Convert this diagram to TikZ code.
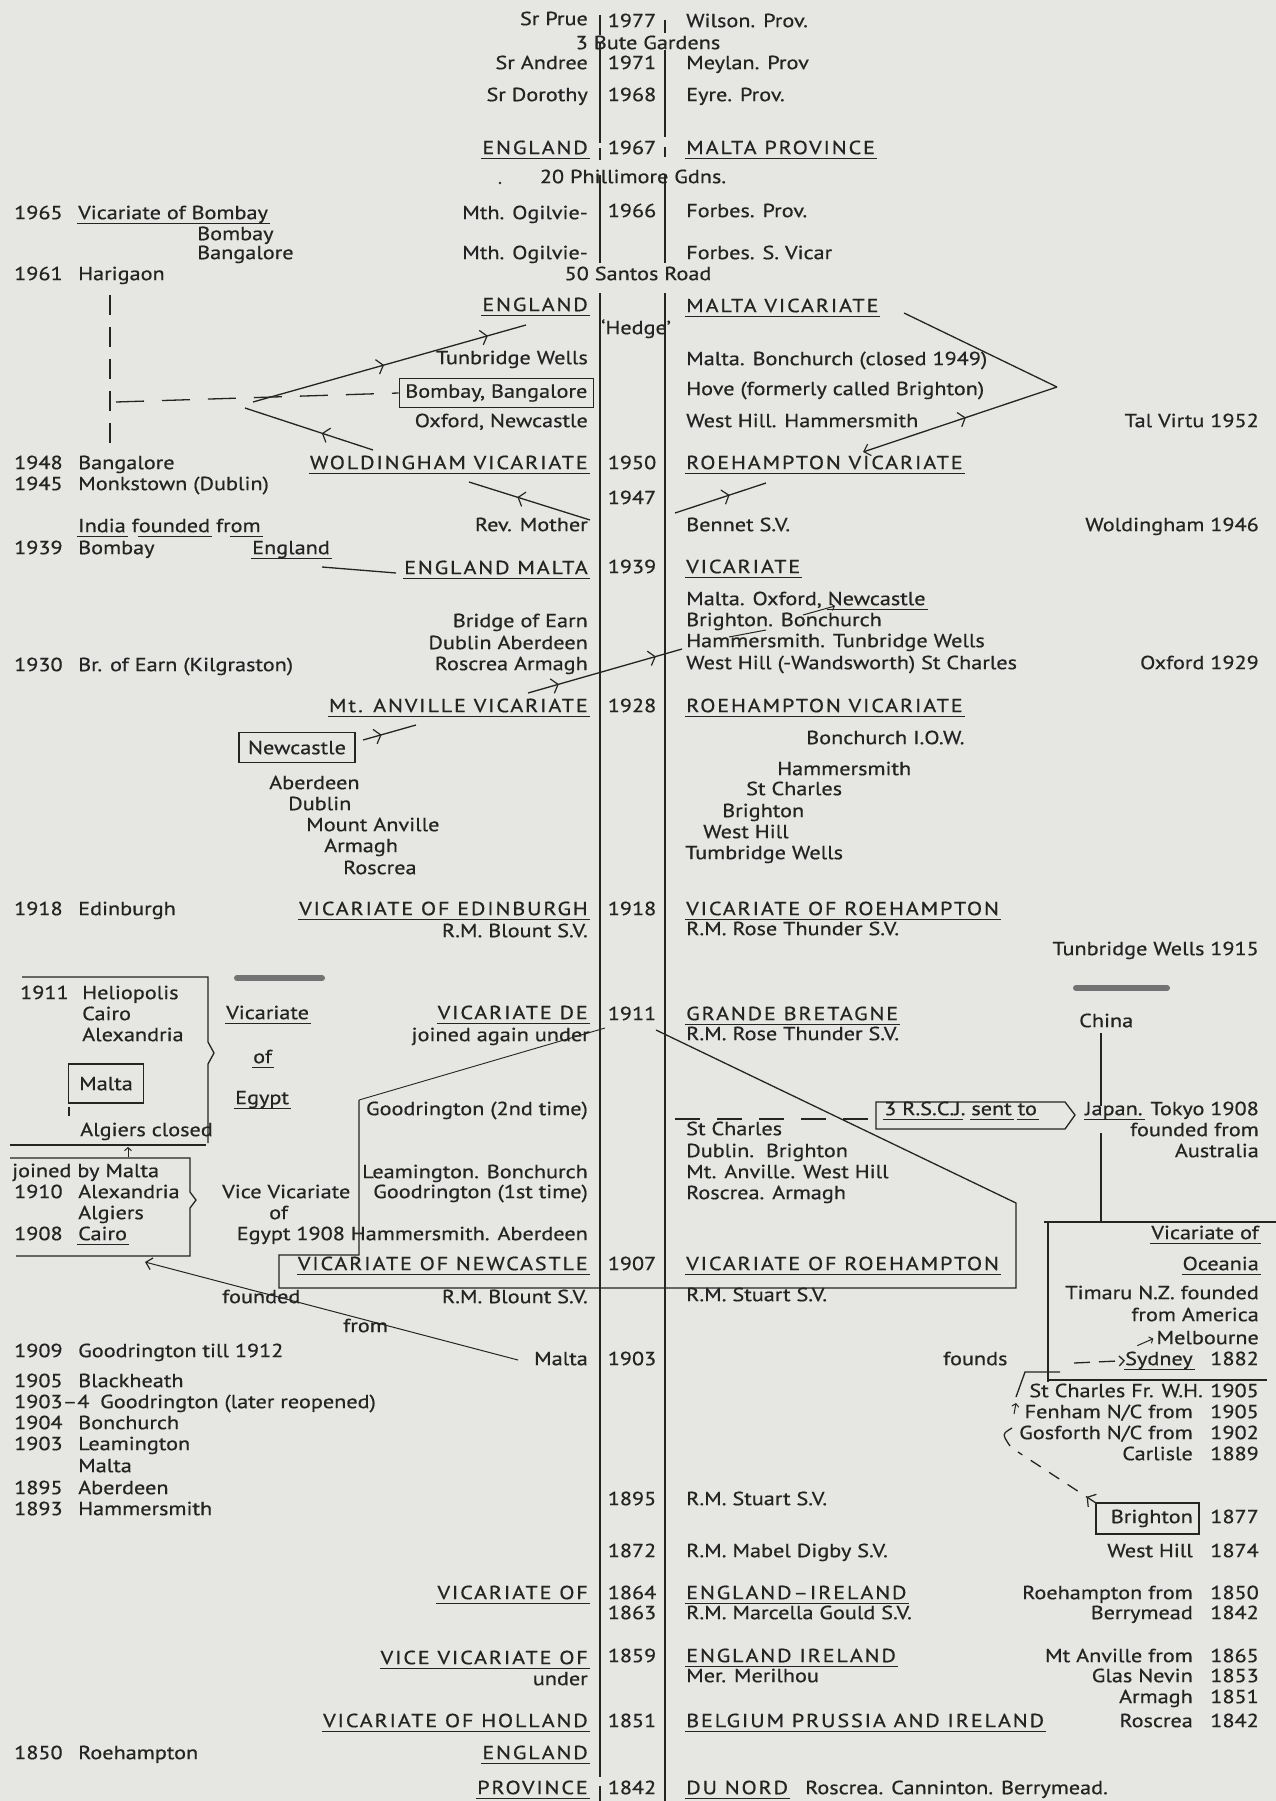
\documentclass[tikz,border=0pt]{standalone}
\usepackage{fontspec}
\newfontfamily\tf{PT Sans}[FakeStretch=1.17,FakeBold=0.6]
\newfontfamily\tfc{PT Sans}[FakeStretch=1.17,FakeBold=0.6,LetterSpace=9.5]
\usetikzlibrary{arrows.meta,decorations.markings,calc}
\definecolor{ink}{RGB}{36,36,36}
\definecolor{paper}{RGB}{230,230,227}
\newcommand\myul[1]{\setbox0\hbox{#1}\rlap{\kern-1pt\rule[-4.5pt]{\dimexpr\wd0+3pt\relax}{1.1pt}}#1}
\tikzset{
 base/.style={inner sep=0pt, text=ink, font=\tf\fontsize{19}{21}\selectfont},
 capf/.style={font=\tfc\fontsize{19}{21}\selectfont},
 lf/.style={base, anchor=mid east},
 rt/.style={base, anchor=mid west},
 ct/.style={base, anchor=mid},
 ln/.style={draw=ink, line width=1.3pt},
 tl/.style={draw=ink, line width=1.6pt},
 chev/.style={postaction={decorate, decoration={markings, mark=at position #1 with {\arrow[ink]{Straight Barb[length=6pt,width=15pt,line width=1.2pt]}}}}},
 rchev/.style={postaction={decorate, decoration={markings, mark=at position #1 with {\arrowreversed[ink]{Straight Barb[length=6pt,width=15pt,line width=1.2pt]}}}}},
 tip/.style={-{Straight Barb[length=6pt,width=12pt,line width=1.2pt]}},
 smudge/.style={line width=6pt, line cap=round, draw=black!55},
}
\begin{document}
\begin{tikzpicture}[x=1pt,y=-1pt]
\fill[paper] (0,0) rectangle (1276,1801);
\useasboundingbox (0,0) rectangle (1276,1801);
% timeline
\foreach \a/\b in {15/35,43/143,148/160,175/263,293/1777,1786/1801} \draw[tl] (600,\a) -- (600,\b);
\foreach \a/\b in {20/33,50/137,147/157,175/263,293/1801} \draw[tl] (665,\a) -- (665,\b);
% ---------- top
\node[lf] (sprue) at (588,23) {Sr Prue};
\node[ct] (y1977) at (632,25) {1977};
\node[rt] (wilson) at (686,25) {Wilson. Prov.};
\node[ct] (bute) at (648,47) {3 Bute Gardens};
\node[lf] (andree) at (588,67) {Sr Andree};
\node[ct] (y1971) at (632,67) {1971};
\node[rt] (meylan) at (686,67) {Meylan. Prov};
\node[lf] (dorothy) at (588,99) {Sr Dorothy};
\node[ct] (y1968) at (632,99) {1968};
\node[rt] (eyre) at (686,99) {Eyre. Prov.};
\node[lf,capf] (eng1) at (588,152) {\myul{ENGLAND}};
\node[ct] (y1967) at (632,152) {1967};
\node[rt,capf] (maltaprov) at (686,152) {\myul{MALTA PROVINCE}};
\fill[ink] (500,183) circle (1.3pt);
\node[ct] (philli) at (633,181) {20 Phillimore Gdns.};
\node[rt] (y1965) at (14,217) {1965};
\node[rt] (vicbom) at (78,217) {\myul{Vicariate of Bombay}};
\node[rt] (bom1) at (197,238) {Bombay};
\node[rt] (bang1) at (197,257) {Bangalore};
\node[lf] (ogil1) at (588,217) {Mth. Ogilvie-};
\node[ct] (y1966) at (632,215) {1966};
\node[rt] (forbes1) at (686,215) {Forbes. Prov.};
\node[lf] (ogil2) at (588,257) {Mth. Ogilvie-};
\node[rt] (forbes2) at (686,257) {Forbes. S. Vicar};
\node[rt] (y1961) at (14,278) {1961};
\node[rt] (hari) at (78,278) {Harigaon};
\node[ct] (santos) at (638,278) {50 Santos Road};
\node[lf,capf] (eng2) at (588,309) {\myul{ENGLAND}};
\node[rt,capf] (maltavic) at (686,310) {\myul{MALTA VICARIATE}};
\node[ct] (hedge) at (636,332) {‘Hedge’};
\node[lf] (tunb1) at (588,362) {Tunbridge Wells};
\node[rt] (bonch1) at (686,363) {Malta. Bonchurch (closed 1949)};
\node[lf,draw=ink,line width=1.3pt,inner xsep=6pt,minimum height=29pt,anchor=east] (bb) at (594,393) {Bombay, Bangalore};
\node[rt] (hove) at (686,393) {Hove (formerly called Brighton)};
\node[lf] (oxnew) at (588,425) {Oxford, Newcastle};
\node[rt] (westhill1) at (686,425) {West Hill. Hammersmith};
\node[lf] (talvirtu) at (1259,425) {Tal Virtu 1952};
% ---------- 1950s-1940s
\node[rt] (y1948) at (14,467) {1948};
\node[rt] (bang2) at (78,467) {Bangalore};
\node[lf,capf] (wold) at (588,467) {\myul{WOLDINGHAM VICARIATE}};
\node[ct] (y1950) at (632,467) {1950};
\node[rt,capf] (roe1) at (686,467) {\myul{ROEHAMPTON VICARIATE}};
\node[rt] (y1945) at (14,488) {1945};
\node[rt] (monks) at (78,488) {Monkstown (Dublin)};
\node[ct] (y1947) at (632,502) {1947};
\node[rt] (india) at (78,530) {\myul{India} f\myul{ounded} fr\myul{om}};
\node[lf] (revm) at (588,529) {Rev. Mother};
\node[rt] (bennet) at (686,529) {Bennet S.V.};
\node[lf] (wold46) at (1259,529) {Woldingham 1946};
\node[rt] (y1939a) at (14,552) {1939};
\node[rt] (bom2) at (78,552) {Bombay};
\node[rt] (engl) at (252,552) {\myul{England}};
\node[lf,capf] (engmalta) at (588,572) {\myul{ENGLAND MALTA}};
\node[ct] (y1939b) at (632,571) {1939};
\node[rt,capf] (vic39) at (686,571) {\myul{VICARIATE}};
\node[rt] (moxn) at (686,603) {Malta. Oxford, \myul{Newcastle}};
\node[lf] (bridge) at (588,625) {Bridge of Earn};
\node[rt] (brbon) at (686,624) {Brighton. Bonchurch};
\node[lf] (dubab) at (588,647) {Dublin Aberdeen};
\node[rt] (hamtun) at (686,645) {Hammersmith. Tunbridge Wells};
\node[lf] (rosarm) at (588,668) {Roscrea Armagh};
\node[rt] (whsc) at (686,667) {West Hill (-Wandsworth) St Charles};
\node[lf] (ox29) at (1259,667) {Oxford 1929};
\node[rt] (y1930) at (14,669) {1930};
\node[rt] (brearn) at (78,669) {Br. of Earn (Kilgraston)};
\node[lf,capf] (mtanv) at (588,710) {\myul{Mt. ANVILLE VICARIATE}};
\node[ct] (y1928) at (632,710) {1928};
\node[rt,capf] (roe2) at (686,710) {\myul{ROEHAMPTON VICARIATE}};
\node[ct,draw=ink,line width=1.3pt,minimum width=116pt,minimum height=30pt] (ncbox) at (297,752) {Newcastle};
\node[rt] (boniow) at (806,742) {Bonchurch I.O.W.};
\node[rt] (ham2) at (777,773) {Hammersmith};
\node[rt] (stc2) at (746,793) {St Charles};
\node[rt] (bri2) at (722,815) {Brighton};
\node[rt] (wh2) at (703,836) {West Hill};
\node[rt] (tumb) at (685,857) {Tumbridge Wells};
\node[rt] (aber2) at (269,787) {Aberdeen};
\node[rt] (dub2) at (288,808) {Dublin};
\node[rt] (mount2) at (306,829) {Mount Anville};
\node[rt] (arm2) at (324,850) {Armagh};
\node[rt] (ros2) at (343,872) {Roscrea};
% ---------- 1918-1907
\node[rt] (y1918a) at (14,913) {1918};
\node[rt] (edin) at (78,913) {Edinburgh};
\node[lf,capf] (vicedin) at (588,913) {\myul{VICARIATE OF EDINBURGH}};
\node[ct] (y1918b) at (632,913) {1918};
\node[rt,capf] (vicroe1) at (686,913) {\myul{VICARIATE OF ROEHAMPTON}};
\node[lf] (blount1) at (588,935) {R.M. Blount S.V.};
\node[rt] (rose1) at (686,933) {R.M. Rose Thunder S.V.};
\node[lf] (tunb15) at (1259,953) {Tunbridge Wells 1915};
\draw[smudge] (237,978) -- (322,978);
\draw[smudge] (1076,988) -- (1167,988);
\node[rt] (y1911a) at (20,997) {1911};
\node[rt] (helio) at (82,997) {Heliopolis};
\node[rt] (cairo1) at (82,1018) {Cairo};
\node[rt] (alex1) at (82,1039) {Alexandria};
\node[rt] (vicar) at (226,1017) {\myul{Vicariate}};
\node[rt] (of1) at (253,1061) {\myul{of}};
\node[rt] (egypt1) at (235,1102) {\myul{Egypt}};
\node[lf,capf] (vicde) at (588,1017) {\myul{VICARIATE DE}};
\node[ct] (y1911b) at (632,1018) {1911};
\node[rt,capf] (grande) at (686,1018) {\myul{GRANDE BRETAGNE}};
\node[lf] (joined) at (590,1039) {joined again under};
\node[rt] (rose2) at (686,1038) {R.M. Rose Thunder S.V.};
\node[rt] (china) at (1079,1025) {China};
\node[ct,draw=ink,line width=1.3pt,minimum width=75pt,minimum height=39pt] (maltabox) at (106,1088) {Malta};
\node[rt] (algcl) at (80,1134) {Algiers closed};
\node[lf] (good2) at (588,1113) {Goodrington (2nd time)};
\node[rt] (rscj) at (884,1113) {\myul{3 R.S.C.J}. \myul{sent} \myul{to}};
\node[lf] (japan) at (1259,1113) {\myul{Japan.} Tokyo 1908};
\node[lf] (fndfrom) at (1259,1134) {founded from};
\node[lf] (austr) at (1259,1155) {Australia};
\node[rt] (stc3) at (686,1133) {St Charles};
\node[rt] (dubbri) at (686,1155) {Dublin.\ \ Brighton};
\node[rt] (mtawh) at (686,1176) {Mt. Anville. West Hill};
\node[rt] (rosarm3) at (686,1197) {Roscrea. Armagh};
\node[rt] (joinm) at (12,1175) {joined by Malta};
\node[lf] (leam) at (588,1176) {Leamington. Bonchurch};
\node[lf] (good1) at (588,1196) {Goodrington (1st time)};
\node[rt] (y1910) at (14,1196) {1910};
\node[rt] (alex2) at (78,1196) {Alexandria};
\node[rt] (alg2) at (78,1217) {Algiers};
\node[rt] (y1908) at (14,1238) {1908};
\node[rt] (cairo2) at (78,1238) {\myul{Cairo}};
\node[rt] (vicevic) at (222,1196) {Vice Vicariate};
\node[rt] (of2) at (269,1217) {of};
\node[lf] (egham) at (588,1238) {Egypt 1908 Hammersmith. Aberdeen};
\node[lf] (vicof) at (1259,1237) {\myul{Vicariate of}};
\node[lf] (ocean) at (1259,1268) {\myul{Oceania}};
\node[lf,capf] (vicnew) at (588,1268) {\myul{VICARIATE OF NEWCASTLE}};
\node[ct] (y1907) at (632,1268) {1907};
\node[rt,capf] (vicroe2) at (686,1268) {\myul{VICARIATE OF ROEHAMPTON}};
\node[rt] (founded) at (222,1301) {founded};
\node[lf] (blount2) at (588,1301) {R.M. Blount S.V.};
\node[rt] (stuart1) at (686,1299) {R.M. Stuart S.V.};
\node[lf] (timaru) at (1259,1297) {Timaru N.Z. founded};
\node[lf] (fromam) at (1259,1319) {from America};
\node[rt] (from1) at (343,1330) {from};
\node[lf] (melb) at (1259,1342) {Melbourne};
% ---------- 1909-1842
\node[rt] (y1909) at (14,1355) {1909};
\node[rt] (goodtill) at (78,1355) {Goodrington till 1912};
\node[lf] (malta03) at (588,1363) {Malta};
\node[ct] (y1903) at (632,1363) {1903};
\node[rt] (founds) at (943,1363) {founds};
\node[rt] (sydney) at (1125,1363) {\myul{Sydney}};
\node[lf] (y1882) at (1259,1363) {1882};
\node[rt] (y1905) at (14,1385) {1905};
\node[rt] (blackh) at (78,1385) {Blackheath};
\node[rt] (y19034) at (14,1406) {1903–4};
\node[rt] (goodlat) at (100,1406) {Goodrington (later reopened)};
\node[rt] (y1904) at (14,1427) {1904};
\node[rt] (bonch4) at (78,1427) {Bonchurch};
\node[rt] (y1903b) at (14,1448) {1903};
\node[rt] (leam3) at (78,1448) {Leamington};
\node[rt] (malta3) at (78,1470) {Malta};
\node[rt] (y1895a) at (14,1492) {1895};
\node[rt] (aber5) at (78,1492) {Aberdeen};
\node[rt] (y1893) at (14,1513) {1893};
\node[rt] (ham3) at (78,1513) {Hammersmith};
\node[lf] (stcfr) at (1203,1395) {St Charles Fr. W.H.};
\node[lf] (y1905b) at (1259,1395) {1905};
\node[lf] (fenham) at (1193,1416) {Fenham N/C from};
\node[lf] (y1905c) at (1259,1416) {1905};
\node[lf] (gosf) at (1193,1437) {Gosforth N/C from};
\node[lf] (y1902) at (1259,1437) {1902};
\node[lf] (carl) at (1193,1458) {Carlisle};
\node[lf] (y1889) at (1259,1458) {1889};
\node[ct] (y1895b) at (632,1503) {1895};
\node[rt] (stuart2) at (686,1503) {R.M. Stuart S.V.};
\node[lf] (bri3) at (1193,1521) {Brighton};
\node[lf] (y1877) at (1259,1521) {1877};
\node[ct] (y1872) at (632,1555) {1872};
\node[rt] (digby) at (686,1555) {R.M. Mabel Digby S.V.};
\node[lf] (wh3) at (1193,1555) {West Hill};
\node[lf] (y1874) at (1259,1555) {1874};
\node[lf,capf] (vicof64) at (588,1597) {\myul{VICARIATE OF}};
\node[ct] (y1864) at (632,1597) {1864};
\node[rt,capf] (engire) at (686,1597) {\myul{ENGLAND–IRELAND}};
\node[lf] (roefrom) at (1193,1597) {Roehampton from};
\node[lf] (y1850a) at (1259,1597) {1850};
\node[ct] (y1863) at (632,1617) {1863};
\node[rt] (gould) at (686,1617) {R.M. Marcella Gould S.V.};
\node[lf] (berry) at (1193,1617) {Berrymead};
\node[lf] (y1842a) at (1259,1617) {1842};
\node[lf,capf] (vicevic59) at (588,1662) {\myul{VICE VICARIATE OF}};
\node[ct] (y1859) at (632,1660) {1859};
\node[rt,capf] (engire2) at (686,1660) {\myul{ENGLAND\ IRELAND}};
\node[lf] (mtafrom) at (1193,1660) {Mt Anville from};
\node[lf] (y1865) at (1259,1660) {1865};
\node[lf] (under) at (588,1683) {under};
\node[rt] (meril) at (686,1680) {Mer. Merilhou};
\node[lf] (glas) at (1193,1680) {Glas Nevin};
\node[lf] (y1853) at (1259,1680) {1853};
\node[lf] (arm4) at (1193,1701) {Armagh};
\node[lf] (y1851a) at (1259,1701) {1851};
\node[lf,capf] (holland) at (588,1725) {\myul{VICARIATE OF HOLLAND}};
\node[ct] (y1851b) at (632,1725) {1851};
\node[rt,capf] (belg) at (686,1725) {\myul{BELGIUM\ PRUSSIA\ AND IRELAND}};
\node[lf] (ros4) at (1193,1725) {Roscrea};
\node[lf] (y1842b) at (1259,1725) {1842};
\node[rt] (y1850b) at (14,1757) {1850};
\node[rt] (roe50) at (78,1757) {Roehampton};
\node[lf,capf] (eng3) at (588,1757) {\myul{ENGLAND}};
\node[lf,capf] (prov) at (588,1792) {\myul{PROVINCE}};
\node[ct] (y1842c) at (632,1792) {1842};
\node[rt,capf] (dunord) at (686,1792) {\myul{DU NORD}};
\node[rt] (roscan) at (805,1792) {Roscrea. Canninton. Berrymead.};
% ---------- connectors
\coordinate (j1) at (253,402); \coordinate (e2t) at (526,325);
\coordinate (w1) at (373,450); \coordinate (j2) at (245,408);
\draw[ln,dash pattern=on 20pt off 12pt] (110,295) -- (110,453);
\draw[ln,dash pattern=on 28pt off 18pt] (116,402) -- (bb.west);
\draw[ln,chev=0.48,chev=0.86] (j1) -- (e2t);
\draw[ln,chev=0.4] (w1) -- (j2);
\coordinate (mv1) at (904,313); \coordinate (apex) at (1057,387); \coordinate (r1) at (863,452);
\draw[ln] (mv1) -- (apex);
\draw[ln,rchev=0.47,tip] (apex) -- (r1);
\draw[ln,chev=0.6] (590,520) -- (469,482);
\draw[ln,chev=0.6] (675,513) -- (766,483);
\draw[ln] (322,567) -- (396,573);
\draw[ln,chev=0.2,chev=0.83] (528,693) -- (682,649);
\draw[ln,chev=0.35] (363,740) -- (416,725);
\draw[ln,line width=1pt,-{Straight Barb[length=3pt,width=7pt]}] (803,615) -- (835,606);
\draw[ln,line width=1pt] (729,637) -- (766,630);
% Egypt brackets
\draw[ln] (22,977) -- (208,977) -- (208,1042) -- (214,1053) -- (208,1064) -- (208,1143);
\draw[ln] (10,1145) -- (206,1145);
\draw[ln] (69,1107) -- (69,1116);
\draw[ln] (10,1158) -- (190,1158) -- (190,1192) -- (196,1200) -- (190,1208) -- (190,1256) -- (16,1256);
\draw[ln,line width=1pt,-{Straight Barb[length=3pt,width=7pt]}] (128,1157) -- (128,1147);
% big enclosure
\draw[ln] (359,1100) -- (359,1255) -- (279,1255) -- (279,1288) -- (1016,1288) -- (1016,1203) -- (656,1030);
\draw[ln,line width=0.9pt] (359,1100) -- (605,1028);
\draw[ln,line width=1pt,tip] (518,1360) -- (145,1262);
% RSCJ
\draw[ln,dash pattern=on 25pt off 17pt] (675,1119) -- (876,1119);
\draw[ln] (876,1102) -- (1065,1102) -- (1075,1115) -- (1065,1129) -- (876,1129) -- cycle;
% China / Oceania
\draw[ln] (1101,1033) -- (1101,1106);
\draw[ln] (1101,1133) -- (1101,1222);
\draw[ln] (1044,1222) -- (1276,1222);
\draw[ln] (1048,1222) -- (1048,1382);
\draw[ln] (1048,1380) -- (1267,1380);
\draw[ln,line width=1pt,-{Straight Barb[length=3pt,width=7pt]}] ($(melb.west)+(-19,8)$) -- ($(melb.west)+(-3,1)$);
\draw[ln,dash pattern=on 16pt off 9pt,-{Straight Barb[length=5pt,width=10pt]}] (1074,1363) -- (sydney.west);
% Brighton founds
\draw[ln] (1096,1503) rectangle (1199,1534);
\draw[ln,dash pattern=on 12pt off 10pt,chev=0.12] (1096,1503) -- (1018,1452);
\draw[ln] (1012,1428) .. controls (1002,1434) .. (1010,1446);
\draw[ln,line width=1pt,-{Straight Barb[length=3pt,width=7pt]}] (1014,1414) -- (1016,1403);
\draw[ln] (1016,1397) -- (1025,1372) -- (1060,1372);
\end{tikzpicture}
\end{document}
